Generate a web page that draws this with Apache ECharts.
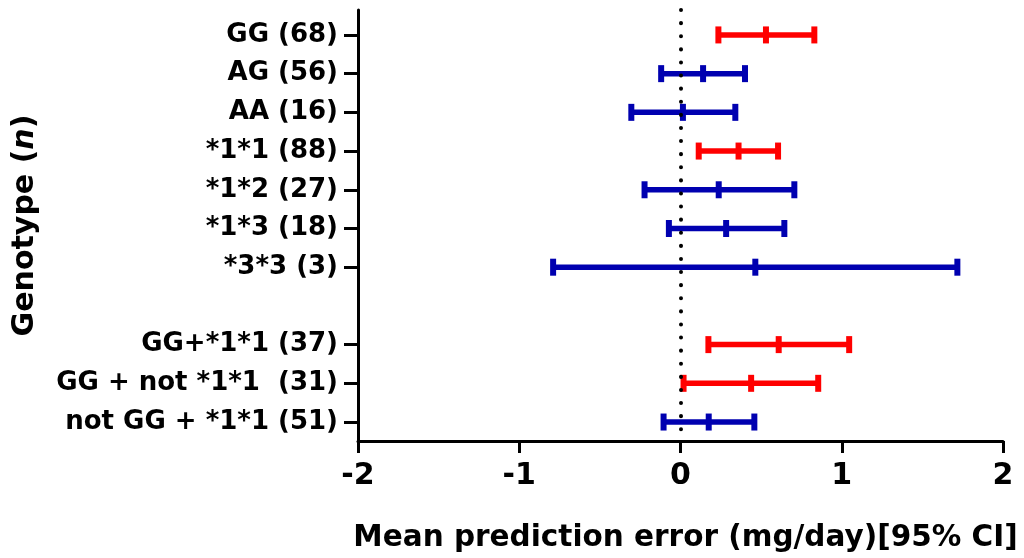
<!DOCTYPE html>
<html>
<head>
<meta charset="utf-8">
<script src="https://cdn.jsdelivr.net/npm/echarts@6/dist/echarts.min.js"></script>
<style>
html,body{margin:0;padding:0;background:#fff;}
#chart{width:1024px;height:558px;}
</style>
</head>
<body>
<div id="chart"></div>
<script>
// Row labels (top to bottom); '' is the blank spacer row
const categories = ['GG (68)','AG (56)','AA (16)','*1*1 (88)','*1*2 (27)','*1*3 (18)','*3*3 (3)','','GG+*1*1 (37)','GG + not *1*1  (31)','not GG + *1*1 (51)'];
// Mean prediction error and 95% CI bounds (mg/day)
const means = [0.53, 0.14, 0.015, 0.36, 0.237, 0.283, 0.464, null, 0.609, 0.438, 0.175];
const lower = [0.235, -0.12, -0.305, 0.113, -0.223, -0.072, -0.79, null, 0.173, 0.019, -0.105];
const upper = [0.83, 0.40, 0.34, 0.605, 0.706, 0.644, 1.717, null, 1.046, 0.854, 0.458];
// 1 = significant group (red), 0 = not (blue)
const significant = [1, 0, 0, 1, 0, 0, 0, null, 1, 1, 0];
const xTicks = [-2, -1, 0, 1, 2];

const RED = '#ff0000', BLUE = '#0000b0';
const rowIdx = [];
const data = [];
categories.forEach((c, i) => {
  if (c !== '') {
    rowIdx.push(i);
    data.push([i, lower[i], means[i], upper[i], significant[i]]);
  }
});

const chart = echarts.init(document.getElementById('chart'), null, {renderer: 'canvas'});
const FONT = 'DejaVu Sans';
chart.setOption({
  animation: false,
  backgroundColor: '#fff',
  grid: {left: 358, right: 21, top: 10, bottom: 114, containLabel: false},
  xAxis: {
    type: 'value', min: xTicks[0], max: xTicks[xTicks.length - 1], interval: 1,
    splitLine: {show: false},
    axisLine: {show: true, onZero: false, lineStyle: {color: '#000', width: 3}},
    axisTick: {show: true, length: 12, lineStyle: {color: '#000', width: 3}},
    axisLabel: {color: '#000', fontFamily: FONT, fontWeight: 'bold', fontSize: 30, margin: 20},
    name: 'Mean prediction error (mg/day)[95% CI]',
    nameLocation: 'middle', nameGap: 82,
    nameTextStyle: {color: '#000', fontFamily: FONT, fontWeight: 'bold', fontSize: 29.5, padding: [0, 0, 0, 10]}
  },
  yAxis: {
    type: 'value', inverse: true, min: -0.644, max: 10.49,
    splitLine: {show: false},
    axisLine: {show: true, onZero: false, lineStyle: {color: '#000', width: 3}},
    axisTick: {show: true, length: 14, customValues: rowIdx, lineStyle: {color: '#000', width: 3}},
    axisLabel: {
      customValues: rowIdx, color: '#000', fontFamily: FONT, fontWeight: 'bold', fontSize: 26, margin: 20,
      formatter: v => categories[Math.round(v)]
    },
    name: 'Genotype ({i|n})',
    nameLocation: 'middle', nameGap: 318, nameRotate: 90,
    nameTextStyle: {color: '#000', fontFamily: FONT, fontWeight: 'bold', fontSize: 30,
      rich: {i: {fontStyle: 'italic', fontFamily: FONT, fontWeight: 'bold', fontSize: 30, color: '#000'}}}
  },
  series: [{
    type: 'custom',
    data: data,
    encode: {x: [1, 2, 3], y: 0},
    renderItem: function (params, api) {
      const y = api.value(0);
      const pL = api.coord([api.value(1), y]);
      const pM = api.coord([api.value(2), y]);
      const pH = api.coord([api.value(3), y]);
      const col = api.value(4) === 1 ? RED : BLUE;
      const capH = 17, capW = 6;
      return {
        type: 'group',
        children: [
          {type: 'line', shape: {x1: pL[0], y1: pL[1], x2: pH[0], y2: pH[1]}, style: {stroke: col, lineWidth: 5.5}},
          {type: 'rect', shape: {x: pL[0] - capW / 2, y: pL[1] - capH / 2, width: capW, height: capH}, style: {fill: col}},
          {type: 'rect', shape: {x: pH[0] - capW / 2, y: pH[1] - capH / 2, width: capW, height: capH}, style: {fill: col}},
          {type: 'rect', shape: {x: pM[0] - capW / 2, y: pM[1] - capH / 2, width: capW, height: capH}, style: {fill: col}}
        ]
      };
    },
    markLine: {
      silent: true, symbol: 'none', label: {show: false},
      lineStyle: {color: '#000', width: 4, type: [0.1, 13], cap: 'round'},
      data: [{xAxis: 0}]
    },
    z: 3
  }]
});
</script>
</body>
</html>
